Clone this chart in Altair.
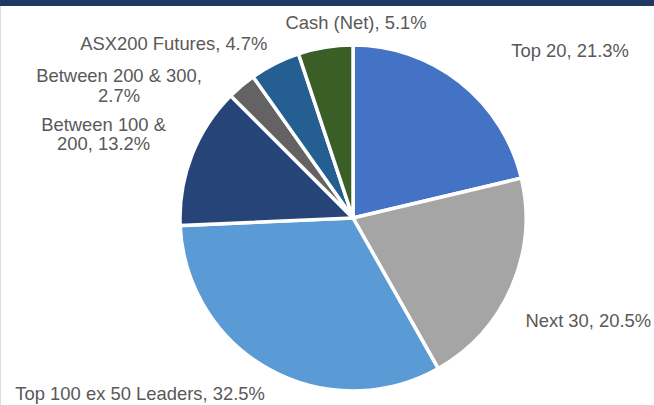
import altair as alt
import pandas as pd

# ---- data ----
categories = ["Top 20", "Next 30", "Top 100 ex 50 Leaders", "Between 100 & 200",
              "Between 200 & 300", "ASX200 Futures", "Cash (Net)"]
values = [21.3, 20.5, 32.5, 13.2, 2.7, 4.7, 5.1]
label_texts = ["Top 20, 21.3%", "Next 30, 20.5%", "Top 100 ex 50 Leaders, 32.5%",
               "Between 100 &\n200, 13.2%", "Between 200 & 300,\n2.7%",
               "ASX200 Futures, 4.7%", "Cash (Net), 5.1%"]

# ---- styles / layout ----
colors = ["#4472C4", "#A5A5A5", "#5B9BD5", "#264478", "#636363", "#255E91", "#3B5E27"]
label_nudges = [(93, -4), (52, 29), (-116, 7), (-63, -15), (-105, 17), (-89, 10), (35, 8)]
W, H = 654, 405
CX, CY, R = 353, 218, 173
LABEL_R = 200

df = pd.DataFrame({
    "cat": categories,
    "val": values,
    "label": label_texts,
    "idx": list(range(len(categories))),
})

base = alt.Chart(df)

theta = alt.Theta("val:Q", stack=True)
order = alt.Order("idx:Q", sort="ascending")

pie = base.mark_arc(outerRadius=R, stroke="white", strokeWidth=3.5).encode(
    theta=theta,
    order=order,
    color=alt.Color("cat:N", scale=alt.Scale(domain=categories, range=colors), legend=None),
    x=alt.value(CX),
    y=alt.value(CY),
)

layers = [pie]
for cat, (ddx, ddy) in zip(categories, label_nudges):
    t = base.mark_text(
        radius=LABEL_R, dx=ddx, dy=ddy, align="center", baseline="alphabetic",
        font="Liberation Sans", fontSize=18.4, color="#595959", lineBreak="\n", lineHeight=19.5,
    ).encode(
        theta=theta,
        order=order,
        text="label:N",
        x=alt.value(CX),
        y=alt.value(CY),
        opacity=alt.condition(alt.datum.cat == cat, alt.value(1), alt.value(0)),
    )
    layers.append(t)

bar = alt.Chart(pd.DataFrame({"k": [0]})).mark_rect(color="#1F3864").encode(
    x=alt.value(0), x2=alt.value(W), y=alt.value(0), y2=alt.value(6)
)
layers.append(bar)

chart = alt.layer(*layers).properties(
    width=W, height=H, autosize=alt.AutoSizeParams(type="none"), padding=0,
).configure_view(stroke=None).configure(background="white")

chart.save("out.html", embed_options={"renderer": "svg", "actions": False})
